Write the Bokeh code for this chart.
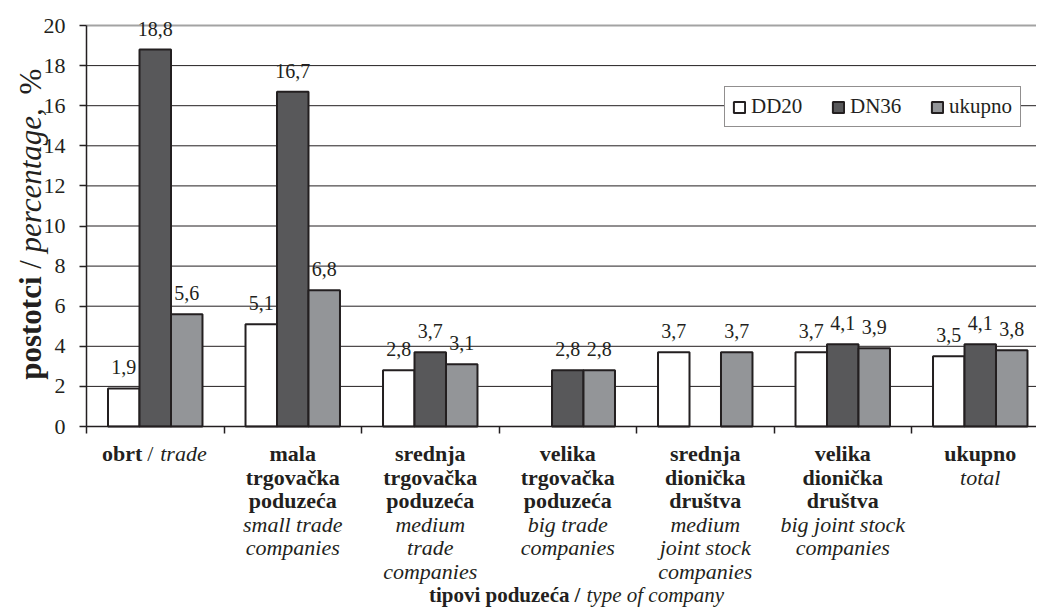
import math
from bokeh.plotting import figure
from bokeh.models import (ColumnDataSource, Range1d, FixedTicker, Label, LabelSet,
                          Legend, LegendItem)
from bokeh.embed import file_html
from bokeh.resources import INLINE

# ---------------- data ----------------
cat_hr = [["obrt"], ["mala", "trgovačka", "poduzeća"], ["srednja", "trgovačka", "poduzeća"],
          ["velika", "trgovačka", "poduzeća"], ["srednja", "dionička", "društva"],
          ["velika", "dionička", "društva"], ["ukupno"]]
cat_en = [["trade"], ["small trade", "companies"], ["medium", "trade", "companies"],
          ["big trade", "companies"], ["medium", "joint stock", "companies"],
          ["big joint stock", "companies"], ["total"]]
inline_label = [True, False, False, False, False, False, False]

series_names = ["DD20", "DN36", "ukupno"]
dd20 = [1.9, 5.1, 2.8, None, 3.7, 3.7, 3.5]
dn36 = [18.8, 16.7, 3.7, 2.8, None, 4.1, 4.1]
ukupno = [5.6, 6.8, 3.1, 2.8, 3.7, 3.9, 3.8]
y_ticks = [0, 2, 4, 6, 8, 10, 12, 14, 16, 18, 20]

# ---------------- style / geometry ----------------
FONT = "Liberation Serif"
INK = "#231f20"
colors = ["#ffffff", "#58585a", "#939598"]
W, H = 1036, 609
BAR_W = 0.229
KX = 137.5            # px per category
KY = 401 / 20.0       # px per y unit
OX, OY = 86, 426      # page position of data origin

def dx(px):
    return (px - OX) / KX
def dy(py):
    return (OY - py) / KY

X0, X1 = dx(0), dx(W)
Y0, Y1 = dy(H), dy(0)

p = figure(width=W, height=H, x_range=Range1d(X0, X1), y_range=Range1d(Y0, Y1),
           output_backend="svg", toolbar_location=None, min_border=0)
p.outline_line_color = None
p.background_fill_color = "white"
p.border_fill_color = "white"
p.xgrid.visible = False
p.ygrid.visible = False

# horizontal gridlines
grid_y = y_ticks[1:-1]
p.segment(x0=[0] * len(grid_y), x1=[X1] * len(grid_y), y0=grid_y, y1=grid_y,
          line_color=INK, line_width=1)
p.segment(x0=[0], x1=[X1], y0=[y_ticks[-1]], y1=[y_ticks[-1]], line_color="#a3a3a3", line_width=2)

# axes, drawn at the data origin
p.yaxis.fixed_location = 0
p.yaxis.bounds = (0, y_ticks[-1])
p.yaxis.ticker = FixedTicker(ticks=y_ticks)
p.yaxis.major_label_text_font = FONT
p.yaxis.major_label_text_font_size = "22px"
p.yaxis.major_label_text_color = INK
p.yaxis.major_tick_out = 7
p.yaxis.major_tick_in = 0
p.yaxis.minor_tick_out = 0
p.yaxis.minor_tick_in = 0
p.yaxis.major_label_standoff = 14
p.yaxis.axis_line_color = INK
p.yaxis.axis_line_width = 1.5
p.yaxis.major_tick_line_color = INK
p.yaxis.major_tick_line_width = 1.5

n = len(cat_hr)
p.xaxis.fixed_location = 0
p.xaxis.bounds = (0, X1)
p.xaxis.ticker = FixedTicker(ticks=list(range(n + 1)))
p.xaxis.major_label_overrides = {i: "" for i in range(n + 1)}
p.xaxis.major_tick_out = 7
p.xaxis.major_tick_in = 0
p.xaxis.minor_tick_out = 0
p.xaxis.minor_tick_in = 0
p.xaxis.axis_line_color = INK
p.xaxis.axis_line_width = 1.5
p.xaxis.major_tick_line_color = INK
p.xaxis.major_tick_line_width = 1.5

# bars + value labels
renderers = []
for k, (name, vals) in enumerate(zip(series_names, [dd20, dn36, ukupno])):
    xs, tops, txt, ly = [], [], [], []
    for i, v in enumerate(vals):
        if v is None:
            continue
        xs.append(i + 0.5 + (k - 1) * BAR_W)
        tops.append(v)
        txt.append(f"{v:.1f}".replace(".", ","))
        ly.append(v + 14 / KY)
    src = ColumnDataSource(dict(x=xs, top=tops, text=txt, ly=ly))
    r = p.vbar(x="x", top="top", width=BAR_W, bottom=0, source=src,
               fill_color=colors[k], line_color=INK, line_width=2)
    renderers.append(r)
    p.add_layout(LabelSet(x="x", y="ly", text="text", source=src, text_align="center",
                          text_baseline="alphabetic", text_font=FONT,
                          text_font_size="20px", text_color=INK))

# legend (location: bottom-left of box, px from the frame's bottom-left)
legend = Legend(items=[LegendItem(label=nm, renderers=[r]) for nm, r in zip(series_names, renderers)],
                orientation="horizontal", location=(724, H - 127))
legend.label_text_font = FONT
legend.label_text_font_size = "21px"
legend.label_text_color = INK
legend.glyph_width = 14
legend.glyph_height = 14
legend.label_standoff = 5
legend.label_width = 64
legend.spacing = 16
legend.padding = 7
legend.margin = 0
legend.border_line_color = INK
legend.border_line_width = 1
legend.background_fill_color = "white"
legend.background_fill_alpha = 1
p.add_layout(legend)

def lab(x, y, text, align="center", style="normal", size="22px", angle=0.0, xo=0):
    p.add_layout(Label(x=x, y=y, x_offset=xo, text=text, text_align=align, angle=angle,
                       text_baseline="alphabetic", text_font=FONT, text_font_size=size,
                       text_font_style=style, text_color=INK))

# category labels
BASE0, STEP = 453, 23.5
for i in range(n):
    cx = i + 0.5
    if inline_label[i]:
        yb = dy(BASE0)
        lab(cx, yb, cat_hr[i][0], "right", "bold", xo=-13)
        lab(cx, yb, "/", "center", xo=-5)
        lab(cx, yb, cat_en[i][0], "left", "italic", xo=5)
        continue
    lines = [(t, "bold") for t in cat_hr[i]] + [(t, "italic") for t in cat_en[i]]
    for j, (t, st) in enumerate(lines):
        lab(cx, dy(BASE0 + j * STEP), t, "center", st)

# x axis title
xt_x, xt_y = dx(577), dy(594)
lab(xt_x, xt_y, "tipovi poduzeća", "right", "bold", "21px", xo=-8)
lab(xt_x, xt_y, "/", "center", "bold", "21px")
lab(xt_x, xt_y, "type of company", "left", "italic", "21px", xo=9)

# y axis title (rotated, mixed styles)
yx = dx(30)
A = math.pi / 2
lab(yx, dy(276), "postotci", "right", "bold", "31px", A)
lab(yx, dy(264), "/", "center", "normal", "31px", A)
lab(yx, dy(252), "percentage,", "left", "italic", "31px", A)
lab(yx, dy(94), "%", "left", "normal", "31px", A)

open("out.html", "w").write(file_html(p, INLINE))
